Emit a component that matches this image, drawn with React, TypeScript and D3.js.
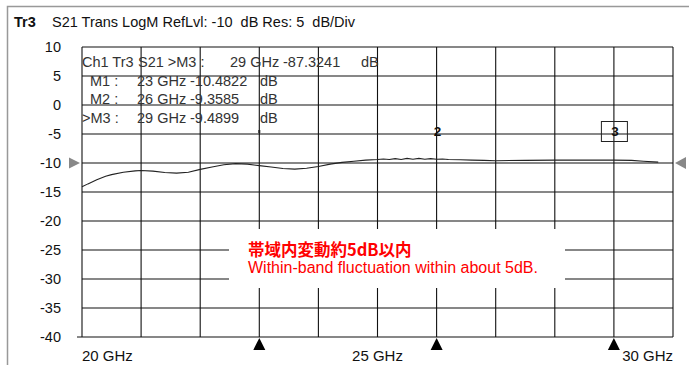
import React from "react";
import * as d3 from "d3";

const W = 689;
const H = 365;

const yTicks = [10, 5, 0, -5, -10, -15, -20, -25, -30, -35, -40];
const xGrid = [20, 21, 22, 23, 24, 25, 26, 27, 28, 29, 30];
const xLabels = [
  { f: 20, text: "20 GHz", anchor: "start" },
  { f: 25, text: "25 GHz", anchor: "middle" },
  { f: 30, text: "30 GHz", anchor: "end" },
];

const freqGHz = [20.0, 20.1, 20.25, 20.4, 20.5, 20.7, 20.9, 21.0, 21.2, 21.4, 21.6, 21.8, 22.0, 22.2, 22.4, 22.6, 22.8, 23.0, 23.2, 23.4, 23.6, 23.8, 24.0, 24.2, 24.4, 24.6, 24.8, 25.0, 25.1, 25.2, 25.3, 25.4, 25.5, 25.6, 25.7, 25.8, 25.9, 26.0, 26.1, 26.2, 26.4, 26.6, 26.8, 27.0, 27.5, 28.0, 28.5, 29.0, 29.3, 29.5, 29.75];
const s21dB = [-14.1, -13.6, -12.9, -12.3, -12.0, -11.6, -11.35, -11.3, -11.4, -11.65, -11.75, -11.6, -11.1, -10.7, -10.3, -10.1, -10.2, -10.45, -10.7, -10.95, -11.05, -10.9, -10.6, -10.2, -9.9, -9.7, -9.5, -9.4, -9.3, -9.4, -9.25, -9.4, -9.2, -9.35, -9.2, -9.35, -9.25, -9.35, -9.3, -9.4, -9.45, -9.5, -9.55, -9.6, -9.55, -9.5, -9.5, -9.5, -9.55, -9.7, -9.85];

const markerFreqs = [23, 26, 29];
const markerNames = ["1", "2", "3"];

const headerRow0 = ["Ch1 Tr3", "S21 >M3 :", "29 GHz", "-87.3241", "dB"];
const headerRow1 = ["M1 :", "23 GHz", "-10.4822", "dB"];
const headerRow2 = ["M2 :", "26 GHz", "-9.3585", "dB"];
const headerRow3 = [">M3 :", "29 GHz", "-9.4899", "dB"];

const titleBold = "Tr3";
const titleText = "S21 Trans LogM RefLvl: -10  dB Res: 5  dB/Div";

const noteJa = "帯域内変動約5dB以内";
const noteEn = "Within-band fluctuation within about 5dB.";

export default function App() {
  const x = d3.scaleLinear().domain([20, 30]).range([82, 673]);
  const y = d3.scaleLinear().domain([-40, 10]).range([337, 47]);
  const line = d3
    .line<number>()
    .x((_, i) => x(freqGHz[i]))
    .y((d) => y(d));
  const font = "Arial, 'Liberation Sans', sans-serif";
  const refY = y(-10);

  const rows = [
    { cells: headerRow0, xs: [82, 138, 230, 283, 361], base: 67 },
    { cells: headerRow1, xs: [90, 137, 190, 260], base: 85.5 },
    { cells: headerRow2, xs: [90, 137, 190, 260], base: 104 },
    { cells: headerRow3, xs: [82, 137, 190, 260], base: 122.5 },
  ];

  return (
    <svg
      width={W}
      height={H}
      style={{ position: "absolute", left: 0, top: 0, background: "#fff" }}
      fontFamily={font}
    >
      <rect x={0} y={0} width={W} height={H} fill="#fff" />
      {/* outer frame */}
      <path d={`M7.5,${H} V6.5 H${W}`} fill="none" stroke="#999" strokeWidth={1.5} />
      {/* title */}
      <text x={14} y={27} fontSize={14.5} fontWeight="bold" fill="#111">{titleBold}</text>
      <text x={52} y={27} fontSize={14.5} fill="#111" style={{ whiteSpace: "pre" }}>
        {titleText}
      </text>

      {/* grid */}
      {yTicks.map((t) => (
        <line key={"h" + t} x1={x(20)} x2={x(30)} y1={y(t)} y2={y(t)} stroke="#111" strokeWidth={1.1} />
      ))}
      {xGrid.map((f) => (
        <line key={"v" + f} x1={x(f)} x2={x(f)} y1={y(10)} y2={y(-40)} stroke="#111" strokeWidth={1.1} />
      ))}
      <line x1={77} x2={x(20)} y1={y(-40)} y2={y(-40)} stroke="#111" strokeWidth={1} />

      {/* y labels */}
      {yTicks.map((t) => (
        <text key={"yl" + t} x={61} y={y(t) + 5} fontSize={14.5} textAnchor="end" fill="#111">
          {t}
        </text>
      ))}
      {/* x labels */}
      {xLabels.map((l) => (
        <text key={l.text} x={x(l.f)} y={361} fontSize={15} textAnchor={l.anchor} fill="#111">
          {l.text}
        </text>
      ))}

      {/* header text */}
      {rows.map((r, i) =>
        r.cells.map((c, j) => (
          <text key={"hd" + i + "_" + j} x={r.xs[j]} y={r.base} fontSize={14.5} fill="#333">
            {c}
          </text>
        ))
      )}

      {/* trace */}
      <path d={line(s21dB) || ""} fill="none" stroke="#222" strokeWidth={1.1} />

      {/* reference arrows */}
      <path d={`M69,${refY - 5.5} L80,${refY} L69,${refY + 5.5} Z`} fill="#888" />
      <path d={`M686,${refY - 6} L675,${refY} L686,${refY + 6} Z`} fill="#888" />

      {/* marker labels */}
      {markerFreqs.map((f, i) => {
        const mx = x(f);
        if (i === 0) {
          return <rect key={"ml" + i} x={mx - 1} y={130} width={2} height={3} fill="#222" />;
        }
        return (
          <g key={"ml" + i}>
            {i === 2 && (
              <rect x={mx - 12.5} y={121.5} width={26} height={20} fill="none" stroke="#222" strokeWidth={1} />
            )}
            <text x={mx + 1} y={136} fontSize={13.5} fontWeight="bold" textAnchor="middle" fill="#111">
              {markerNames[i]}
            </text>
          </g>
        );
      })}
      {/* marker triangles */}
      {markerFreqs.map((f) => (
        <path
          key={"mt" + f}
          d={`M${x(f)},${y(-40) + 1} L${x(f) + 6},${y(-40) + 13} L${x(f) - 6},${y(-40) + 13} Z`}
          fill="#000"
        />
      ))}

      {/* annotation */}
      <rect x={229} y={229} width={336} height={59} fill="#fff" />
      <text x={248} y={256} fontSize={16.5} fontWeight="bold" fill="#f00" fontFamily="'Noto Sans CJK JP', sans-serif">
        {noteJa}
      </text>
      <text x={248} y={273} fontSize={16} fill="#f00">
        {noteEn}
      </text>
    </svg>
  );
}
